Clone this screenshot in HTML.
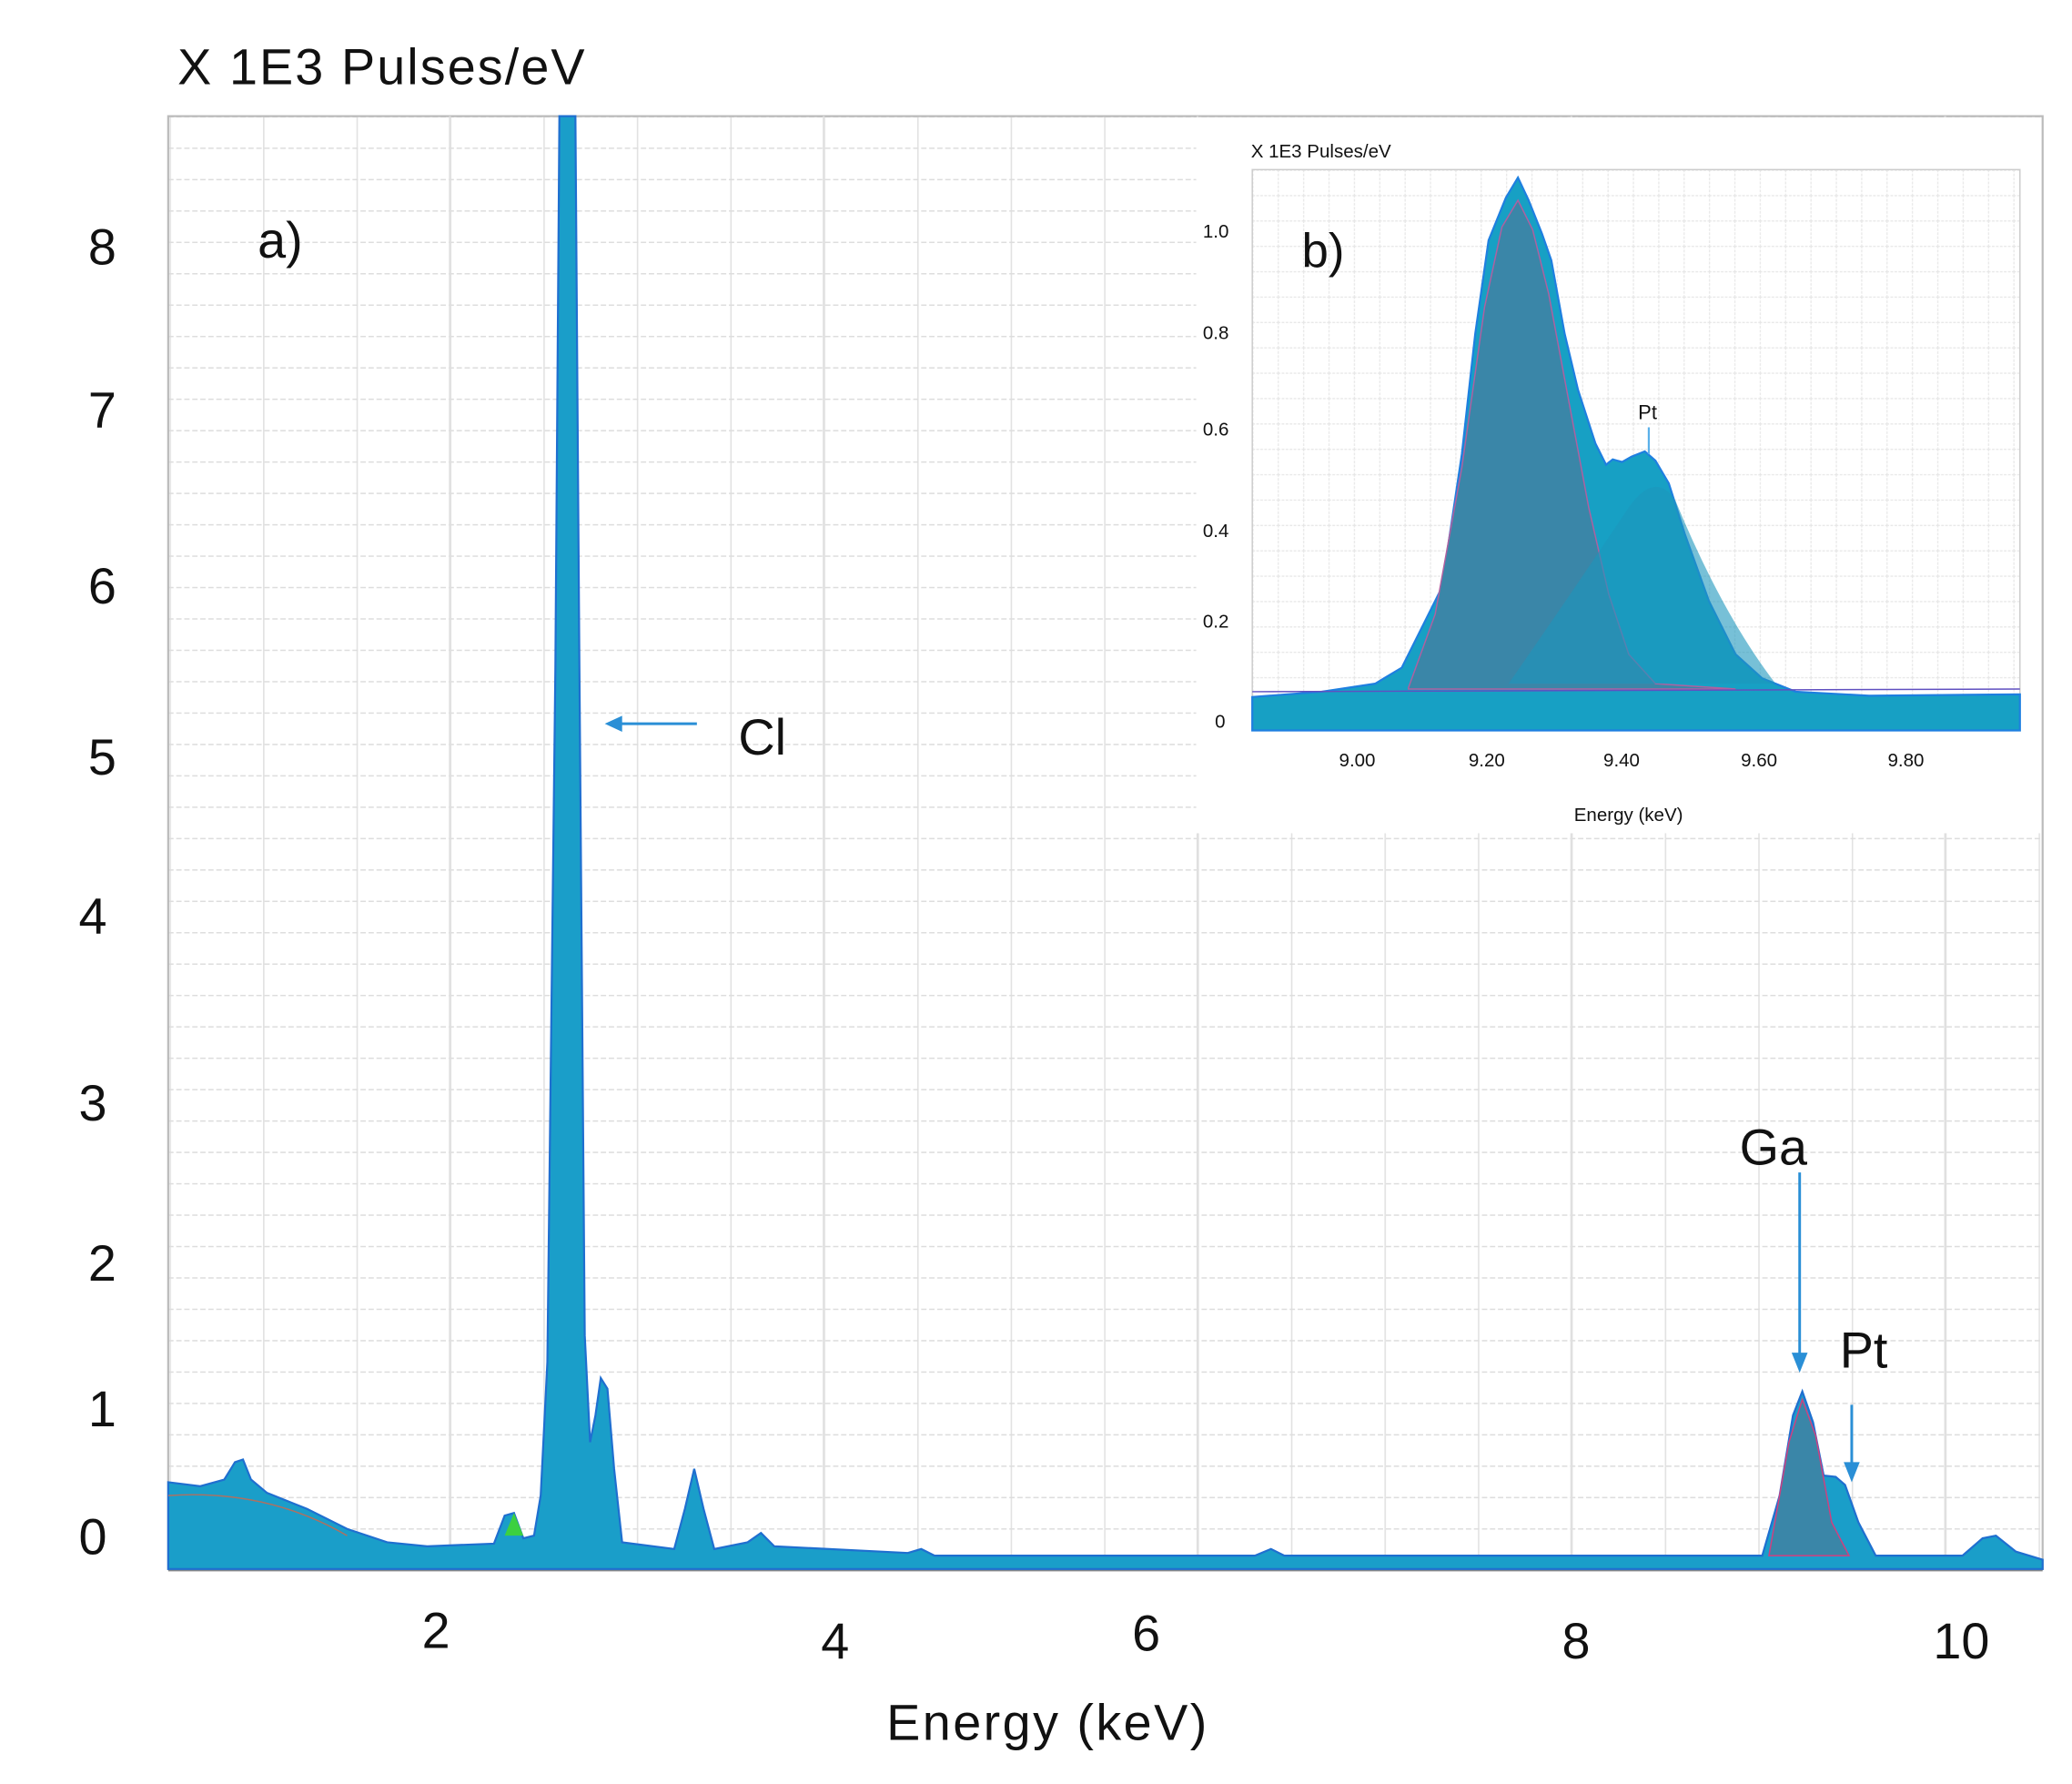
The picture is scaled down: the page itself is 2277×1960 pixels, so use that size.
<!DOCTYPE html>
<html><head><meta charset="utf-8"><style>
html,body{margin:0;padding:0;background:#fff;}
svg{display:block;}
text{font-family:"Liberation Sans",sans-serif;fill:#111;}
</style></head><body>
<svg width="2277" height="1960" viewBox="0 0 1552 1336" preserveAspectRatio="none" xmlns="http://www.w3.org/2000/svg">
<defs>
<pattern id="hg" width="1552" height="23.5" patternUnits="userSpaceOnUse" y="87">
<line x1="0" y1="0.5" x2="1552" y2="0.5" stroke="#ddd" stroke-width="1" stroke-dasharray="4,2"/>
</pattern>
<pattern id="vg" width="70" height="1336" patternUnits="userSpaceOnUse" x="57">
<line x1="0.5" y1="0" x2="0.5" y2="1336" stroke="#e2e2e2" stroke-width="1.2"/>
</pattern>
<pattern id="ig" width="19" height="19" patternUnits="userSpaceOnUse" x="938" y="127">
<path d="M0 0.5H19M0.5 0V19" stroke="#e6e6e6" stroke-width="0.8" fill="none" stroke-dasharray="2,1"/>
</pattern>
</defs>
<rect width="1552" height="1336" fill="#fff"/>
<rect x="126" y="87" width="1404" height="1088" fill="url(#vg)"/>
<rect x="126" y="87" width="1404" height="1088" fill="url(#hg)"/>
<rect x="126" y="87" width="1404" height="1088" fill="none" stroke="#bbb" stroke-width="1.5"/>
<g stroke="#e0e0e0" stroke-width="1.5">
<line x1="337" y1="87" x2="337" y2="1175"/><line x1="617" y1="87" x2="617" y2="1175"/>
<line x1="897" y1="87" x2="897" y2="1175"/><line x1="1177" y1="87" x2="1177" y2="1175"/>
<line x1="1457" y1="87" x2="1457" y2="1175"/>
</g>
<line x1="126" y1="1176" x2="1530" y2="1176" stroke="#888" stroke-width="1.5"/>
<path d="M126 1175 L126 1110 L150 1113 L168 1108 L176 1095 L182 1093 L188 1108 L200 1118 L230 1130 L260 1145 L290 1155 L320 1158 L370 1156 L378 1135 L385 1133 L392 1152 L400 1150 L405 1120 L410 1020 L416 500 L419 87 L431 87 L434 500 L438 1000 L442 1080 L446 1060 L450 1032 L455 1040 L460 1100 L466 1155 L505 1160 L513 1130 L520 1100 L527 1130 L535 1160 L560 1155 L570 1148 L580 1158 L680 1163 L690 1160 L700 1165 L940 1165 L952 1160 L962 1165 L1320 1165 L1333 1120 L1343 1060 L1350 1042 L1358 1065 L1366 1105 L1375 1106 L1382 1112 L1392 1140 L1405 1165 L1470 1165 L1485 1152 L1495 1150 L1510 1162 L1530 1168 L1530 1175 Z" fill="#1a9ec9" stroke="#1f6fd0" stroke-width="1.5"/>
<path d="M1325 1165 L1340 1080 L1350 1048 L1360 1075 L1372 1140 L1385 1165 Z" fill="#3a86a8" stroke="#d04080" stroke-width="1"/>
<path d="M378 1150 L385 1133 L392 1150 Z" fill="#3cd040"/>
<path d="M126 1120 Q200 1115 260 1150" fill="none" stroke="#b07060" stroke-width="1"/>
<line x1="460" y1="542" x2="522" y2="542" stroke="#2a8fd6" stroke-width="2"/>
<path d="M453 542 L466 536 L466 548 Z" fill="#2a8fd6"/>
<text x="553" y="565" font-size="38">Cl</text>
<line x1="1348" y1="878" x2="1348" y2="1015" stroke="#2a8fd6" stroke-width="2"/>
<path d="M1348 1028 L1342 1013 L1354 1013 Z" fill="#2a8fd6"/>
<text x="1303" y="872" font-size="38">Ga</text>
<line x1="1387" y1="1052" x2="1387" y2="1098" stroke="#2a8fd6" stroke-width="2"/>
<path d="M1387 1110 L1381 1095 L1393 1095 Z" fill="#2a8fd6"/>
<text x="1378" y="1024" font-size="38">Pt</text>
<text x="193" y="193" font-size="38">a)</text>
<text x="133" y="63" font-size="38" textLength="305">X 1E3 Pulses/eV</text>
<g font-size="38">
<text x="66" y="198">8</text><text x="66" y="320">7</text><text x="66" y="452">6</text>
<text x="66" y="580">5</text><text x="59" y="699">4</text><text x="59" y="839">3</text>
<text x="66" y="959">2</text><text x="66" y="1068">1</text><text x="59" y="1164">0</text>
<text x="316" y="1234">2</text><text x="615" y="1242">4</text><text x="848" y="1236">6</text>
<text x="1170" y="1242">8</text><text x="1448" y="1242">10</text>
<text x="664" y="1303" textLength="240">Energy (keV)</text>
</g>
<rect x="896" y="88" width="633" height="536" fill="#fff"/>
<rect x="938" y="127" width="575" height="420" fill="url(#ig)" stroke="#ccc" stroke-width="1"/>
<path d="M938 547 L938 522 L990 518 L1030 512 L1050 500 L1065 470 L1080 440 L1095 340 L1105 250 L1115 180 L1128 148 L1137 133 L1145 150 L1155 175 L1162 195 L1172 250 L1182 292 L1195 332 L1203 348 L1208 344 L1215 346 L1222 342 L1232 338 L1240 345 L1250 362 L1262 400 L1280 450 L1300 490 L1320 508 L1345 518 L1400 521 L1513 520 L1513 547 Z" fill="#17a0c4" stroke="#1e7fe0" stroke-width="1.5"/>
<path d="M1055 515 L1075 460 L1095 350 L1112 230 L1125 170 L1137 150 L1148 172 L1160 220 L1175 300 L1190 380 L1205 445 L1220 490 L1240 512 L1300 516 L1055 516 Z" fill="#3a86a8" stroke="#b060a0" stroke-width="1"/>
<path d="M1130 512 Q1180 440 1220 380 Q1240 352 1255 375 Q1290 460 1330 512 Z" fill="#1c96bd" opacity="0.6"/>
<line x1="938" y1="518" x2="1513" y2="516" stroke="#6050c0" stroke-width="1"/>
<line x1="1235" y1="320" x2="1235" y2="340" stroke="#5ab0ea" stroke-width="1.5"/>
<text x="1227" y="314" font-size="15">Pt</text>
<text x="975" y="200" font-size="36">b)</text>
<text x="937" y="118" font-size="14">X 1E3 Pulses/eV</text>
<g font-size="14">
<text x="901" y="178">1.0</text><text x="901" y="254">0.8</text><text x="901" y="326">0.6</text>
<text x="901" y="402">0.4</text><text x="901" y="470">0.2</text><text x="910" y="545">0</text>
<text x="1003" y="574">9.00</text><text x="1100" y="574">9.20</text><text x="1201" y="574">9.40</text>
<text x="1304" y="574">9.60</text><text x="1414" y="574">9.80</text>
<text x="1179" y="615">Energy (keV)</text>
</g>
</svg>
</body></html>
